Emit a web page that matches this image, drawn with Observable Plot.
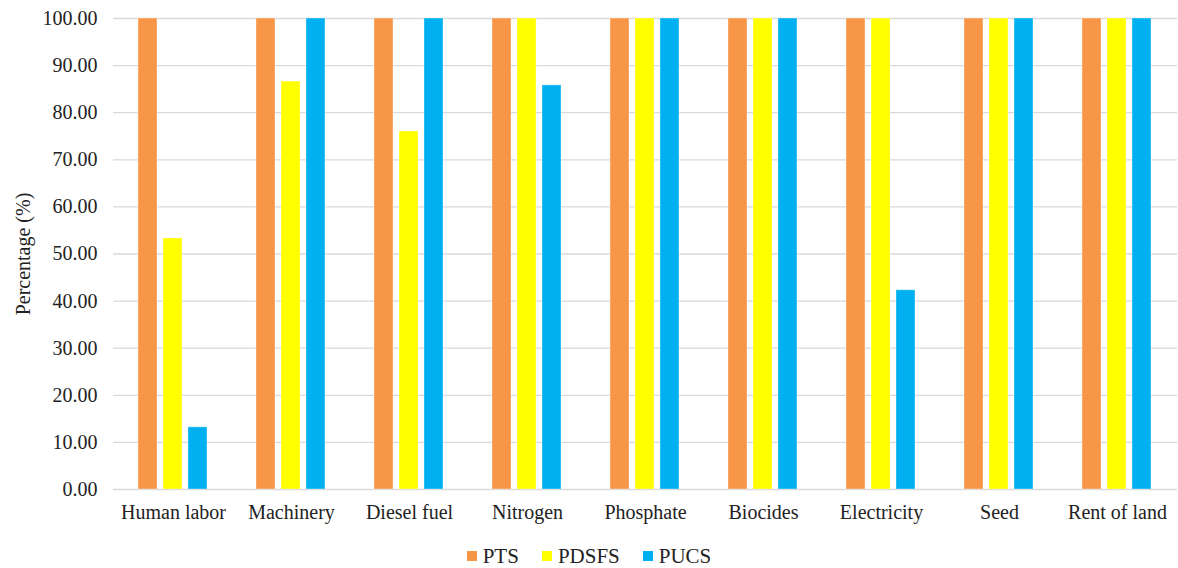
<!DOCTYPE html>
<html>
<head>
<meta charset="utf-8">
<script src="https://cdn.jsdelivr.net/npm/d3@7"></script>
<script src="https://cdn.jsdelivr.net/npm/@observablehq/plot@0.6"></script>
<style>
  body { margin: 0; background: #fff; font-family: "Liberation Serif", "DejaVu Serif", serif; }
  #chart { position: relative; width: 1178px; height: 530px; }
  #chart svg { position: absolute; left: 0; top: 0; }
  #chart svg text { font-family: "Liberation Serif", "DejaVu Serif", serif !important; fill: #222; }
  #legend { display: flex; justify-content: center; gap: 23px; font-size: 21px; line-height: 24px; color: #222; margin-top: 14px; }
  #legend .item { display: flex; align-items: center; gap: 6px; }
  #legend .sw { width: 10px; height: 10px; display: inline-block; }
</style>
</head>
<body>
<div id="chart"></div>
<div id="legend"></div>
<script>
const categories = ["Human labor", "Machinery", "Diesel fuel", "Nitrogen", "Phosphate", "Biocides", "Electricity", "Seed", "Rent of land"];
const series = ["PTS", "PDSFS", "PUCS"];
const colors = ["#F79646", "#FFFF00", "#00B0F0"];
const PTS   = [100, 100, 100, 100, 100, 100, 100, 100, 100];
const PDSFS = [53.3, 86.6, 76.0, 100, 100, 100, 100, 100, 100];
const PUCS  = [13.2, 100, 100, 85.8, 100, 100, 42.3, 100, 100];
const yTicks = [0, 10, 20, 30, 40, 50, 60, 70, 80, 90, 100];

const valuesBySeries = {PTS, PDSFS, PUCS};
const data = [];
categories.forEach((c, i) => series.forEach(s => data.push({category: c, series: s, value: valuesBySeries[s][i]})));

const common = {
  width: 1178,
  height: 530,
  marginLeft: 113,
  marginRight: 1,
  marginTop: 18,
  marginBottom: 41
};
const font = {fontFamily: "Liberation Serif", fontSize: "20px", color: "#222"};

// background layer: gridlines and y axis spanning the whole frame
const grid = Plot.plot({
  ...common,
  style: {...font, background: "#fff"},
  y: {domain: [0, 100], label: null},
  marks: [
    Plot.ruleY(yTicks, {stroke: "#d9d9d9", strokeWidth: 1.3}),
    Plot.axisY({ticks: yTicks, tickFormat: d3.format(".2f"), tickSize: 0, tickPadding: 16, fontSize: 20,
      label: "Percentage (%)", labelAnchor: "center", labelArrow: "none", labelOffset: 98})
  ]
});

// foreground layer: grouped bars
const chart = Plot.plot({
  ...common,
  style: {...font, background: "transparent"},
  fx: {domain: categories, paddingInner: 0.39, paddingOuter: 0.2, label: null},
  x: {domain: series, paddingInner: 0.23, paddingOuter: 0, axis: null},
  y: {domain: [0, 100], axis: null},
  color: {domain: series, range: colors},
  marks: [
    Plot.barY(data, {fx: "category", x: "series", y: "value", fill: "series", stroke: "white", strokeOpacity: 0.35, strokeWidth: 1}),
    Plot.axisFx({anchor: "bottom", tickSize: 0, tickPadding: 15, fontSize: 20, label: null})
  ]
});
const holder = document.getElementById("chart");
holder.appendChild(grid);
holder.appendChild(chart);

const legend = document.getElementById("legend");
series.forEach((s, i) => {
  const item = document.createElement("div");
  item.className = "item";
  const sw = document.createElement("span");
  sw.className = "sw";
  sw.style.background = colors[i];
  const t = document.createElement("span");
  t.textContent = s;
  item.appendChild(sw);
  item.appendChild(t);
  legend.appendChild(item);
});
</script>
</body>
</html>
